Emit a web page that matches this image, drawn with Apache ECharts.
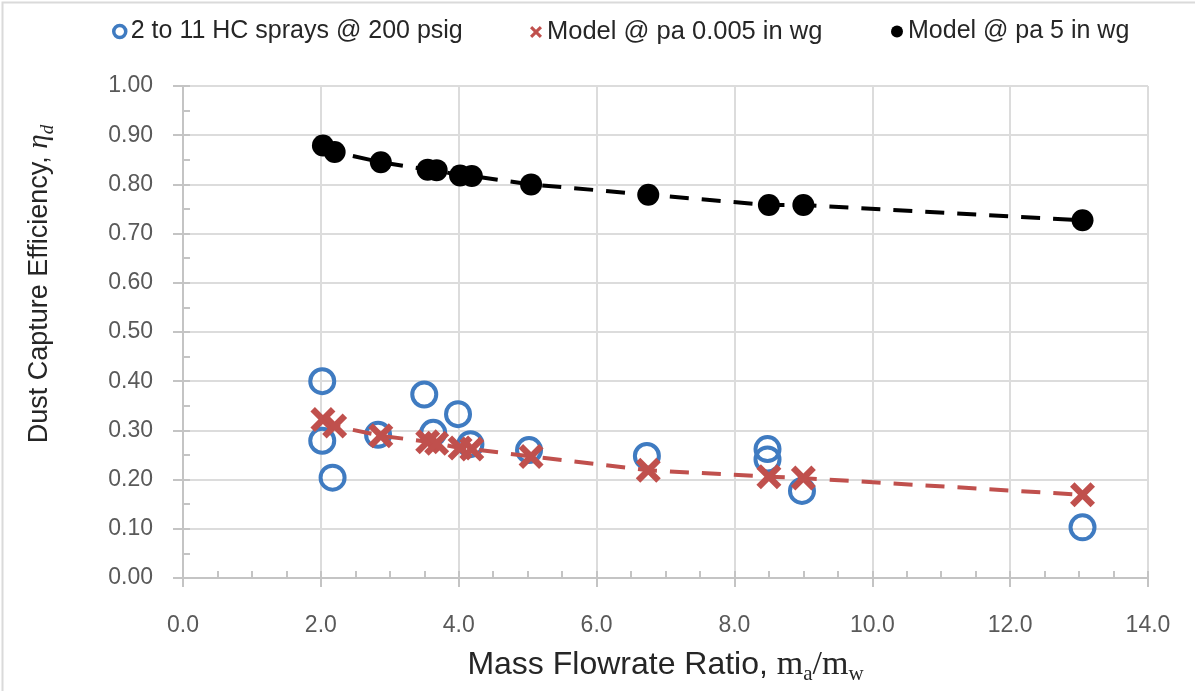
<!DOCTYPE html>
<html>
<head>
<meta charset="utf-8">
<script src="https://cdn.jsdelivr.net/npm/echarts@6/dist/echarts.min.js"></script>
<style>html,body{margin:0;padding:0;background:#fff}#c{width:1195px;height:691px}</style>
</head>
<body>
<div id="c"></div>
<script>
// ---- data ----
const seriesNames = ['2 to 11 HC sprays @ 200 psig', 'Model @ pa 0.005 in wg', 'Model @ pa 5 in wg'];
const sprayX = [2.02, 2.02, 2.17, 2.83, 3.50, 3.63, 3.99, 4.17, 5.02, 6.73, 8.48, 8.48, 8.98, 13.05];
const sprayY = [0.400, 0.279, 0.204, 0.291, 0.373, 0.295, 0.333, 0.272, 0.260, 0.248, 0.262, 0.241, 0.177, 0.103];
const modelX = [2.03, 2.20, 2.87, 3.55, 3.68, 4.02, 4.19, 5.05, 6.75, 8.50, 9.00, 13.05];
const modelLowY = [0.322, 0.309, 0.289, 0.277, 0.274, 0.264, 0.262, 0.247, 0.219, 0.206, 0.203, 0.169];
const modelHighY = [0.879, 0.866, 0.845, 0.830, 0.829, 0.818, 0.817, 0.800, 0.779, 0.758, 0.758, 0.727];
const xAxisMin = 0, xAxisMax = 14, xAxisStep = 2;
const yAxisMin = 0, yAxisMax = 1, yAxisStep = 0.1;
const xTitle = '{t|Mass Flowrate Ratio, }{m|m}{s|a}{m|/m}{s|w}';
const yTitle = '{t|Dust Capture Efficiency, }{e|η}{d|d}';

// ---- styles ----
const SANS = 'Liberation Sans';
const SERIF = 'Liberation Serif';
const BLUE = '#3f7bc1', RED = '#c0504d', BLACK = '#000000';
const AXIS_C = '#c4c4c4', GRID_C = '#dcdcdc';
const XSYM = 'path://M0,1.8L1.8,0L5,3.2L8.2,0L10,1.8L6.8,5L10,8.2L8.2,10L5,6.8L1.8,10L0,8.2L3.2,5Z';

const zip = (a, b) => a.map((v, i) => [v, b[i]]);

const chart = echarts.init(document.getElementById('c'), null, {renderer: 'canvas'});

const legendBase = {
  orient: 'horizontal', top: 19, padding: 0, itemWidth: 12, itemHeight: 12, itemGap: 10,
  textStyle: {fontFamily: SANS, fontSize: 25, color: '#262626'}
};

const subRich = (size) => ({
  t: {fontFamily: SANS, fontSize: size, color: '#262626', lineHeight: size + 8},
  m: {fontFamily: SERIF, fontSize: size + 2, color: '#262626', lineHeight: size + 8},
  s: {fontFamily: SERIF, fontSize: Math.round(size * 0.65), color: '#262626', lineHeight: Math.round(size * 0.65), verticalAlign: 'bottom'},
  e: {fontFamily: SERIF, fontStyle: 'italic', fontSize: size + 2, color: '#262626', lineHeight: size + 8},
  d: {fontFamily: SERIF, fontStyle: 'italic', fontSize: Math.round(size * 0.7), color: '#262626', lineHeight: Math.round(size * 0.7), verticalAlign: 'bottom'}
});

const option = {
  backgroundColor: '#ffffff',
  animation: false,
  graphic: [{
    type: 'rect', left: 0, top: 0, z: -10,
    shape: {x: 0, y: 0, width: 1194, height: 690},
    style: {fill: 'none', stroke: '#dadada', lineWidth: 2}
  }],
  legend: [
    Object.assign({}, legendBase, {left: 112, data: [{name: seriesNames[0], icon: 'circle', itemStyle: {color: 'rgba(255,255,255,0)', borderColor: BLUE, borderWidth: 3.5}}]}),
    Object.assign({}, legendBase, {left: 530, textStyle: Object.assign({}, legendBase.textStyle, {fontSize: 25.5}), data: [{name: seriesNames[1], icon: XSYM, itemStyle: {color: RED, borderWidth: 0}}]}),
    Object.assign({}, legendBase, {left: 891, data: [{name: seriesNames[2], icon: 'circle', itemStyle: {color: BLACK, borderWidth: 0}}]})
  ],
  grid: {left: 183, right: 47, top: 86, bottom: 113, containLabel: false},
  xAxis: [{
    type: 'value', min: xAxisMin, max: xAxisMax, interval: xAxisStep, position: 'bottom',
    axisLine: {show: true, lineStyle: {color: AXIS_C, width: 2}},
    axisTick: {show: true, inside: false, length: 9, lineStyle: {color: AXIS_C, width: 2}},
    axisLabel: {margin: 36, fontFamily: SANS, fontSize: 23, color: '#595959', formatter: v => v.toFixed(1)},
    splitLine: {show: true, lineStyle: {color: GRID_C, width: 2}},
    name: xTitle, nameLocation: 'middle', nameGap: 67,
    nameTextStyle: {rich: subRich(32)}
  }, {
    type: 'value', min: xAxisMin, max: xAxisMax, interval: xAxisStep, position: 'bottom',
    axisLine: {show: false},
    axisTick: {show: true, inside: true, length: 7, lineStyle: {color: AXIS_C, width: 2}},
    minorTick: {show: true, splitNumber: 4, length: 7, lineStyle: {color: AXIS_C, width: 2}},
    axisLabel: {show: false}, splitLine: {show: false}
  }],
  yAxis: [{
    type: 'value', min: yAxisMin, max: yAxisMax, interval: yAxisStep, position: 'left',
    axisLine: {show: true, lineStyle: {color: AXIS_C, width: 2}},
    axisTick: {show: true, inside: false, length: 10, lineStyle: {color: AXIS_C, width: 2}},
    axisLabel: {margin: 30, fontFamily: SANS, fontSize: 23, color: '#595959', formatter: v => v.toFixed(2)},
    splitLine: {show: true, lineStyle: {color: GRID_C, width: 2}},
    name: yTitle, nameLocation: 'middle', nameGap: 126, nameRotate: 90,
    nameTextStyle: {rich: subRich(27), padding: [0, 0, 0, 96]}
  }, {
    type: 'value', min: yAxisMin, max: yAxisMax, interval: yAxisStep, position: 'left',
    axisLine: {show: false},
    axisTick: {show: true, inside: true, length: 7, lineStyle: {color: AXIS_C, width: 2}},
    minorTick: {show: true, splitNumber: 2, length: 7, lineStyle: {color: AXIS_C, width: 2}},
    axisLabel: {show: false}, splitLine: {show: false}
  }],
  series: [{
    name: seriesNames[0], type: 'scatter', z: 2,
    data: zip(sprayX, sprayY), symbol: 'circle', symbolSize: 24,
    itemStyle: {color: 'rgba(255,255,255,0)', borderColor: BLUE, borderWidth: 4, opacity: 1}
  }, {
    name: 'lowTrend', type: 'line', z: 3, silent: true, showSymbol: false, symbol: 'none',
    data: zip(modelX, modelLowY),
    lineStyle: {color: RED, width: 4, type: [19, 13]}
  }, {
    name: seriesNames[1], type: 'scatter', z: 4,
    data: zip(modelX, modelLowY), symbol: XSYM, symbolSize: 25,
    itemStyle: {color: RED, opacity: 1}
  }, {
    name: 'highTrend', type: 'line', z: 3, silent: true, showSymbol: false, symbol: 'none',
    data: zip(modelX, modelHighY),
    lineStyle: {color: BLACK, width: 4, type: [19, 13]}
  }, {
    name: seriesNames[2], type: 'scatter', z: 4,
    data: zip(modelX, modelHighY), symbol: 'circle', symbolSize: 22,
    itemStyle: {color: BLACK, opacity: 1}
  }]
};
chart.setOption(option);
</script>
</body>
</html>
